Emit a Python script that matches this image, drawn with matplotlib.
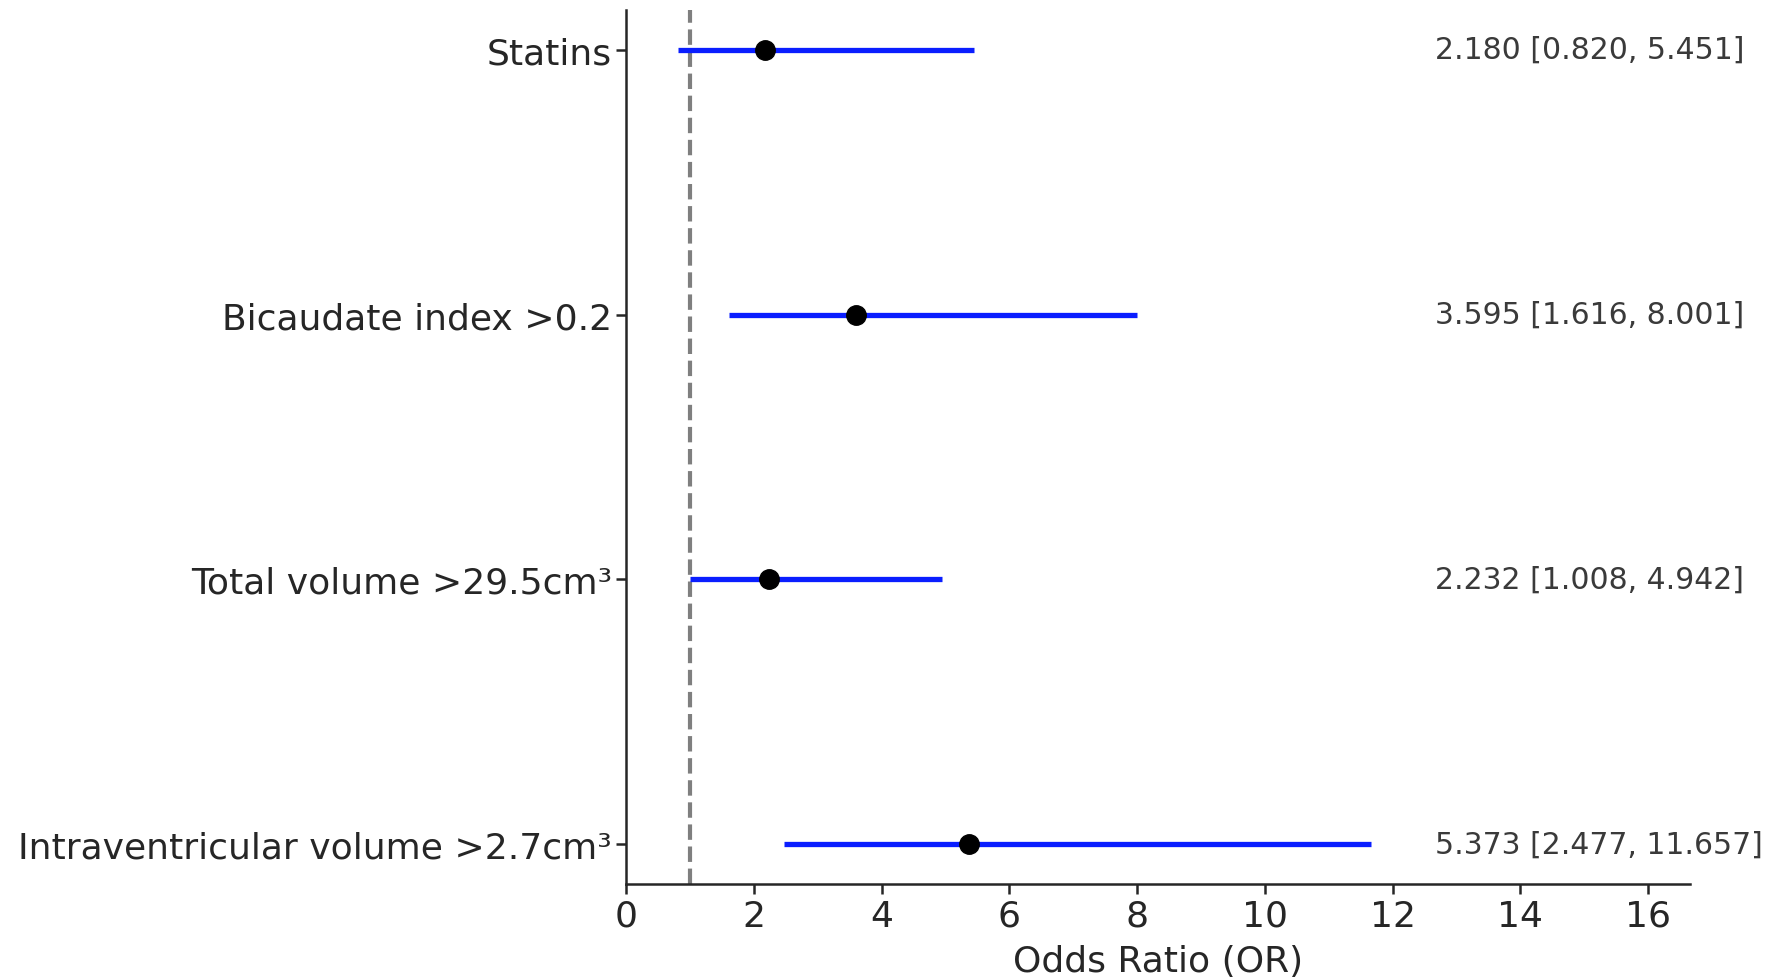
import matplotlib
matplotlib.use('Agg')
import matplotlib.pyplot as plt
import seaborn as sns

labels = ['Statins', 'Bicaudate index >0.2', 'Total volume >29.5cm³', 'Intraventricular volume >2.7cm³']
odds = [2.180, 3.595, 2.232, 5.373]
ci_low = [0.820, 1.616, 1.008, 2.477]
ci_high = [5.451, 8.001, 4.942, 11.657]

sns.set_style('ticks')
plt.rcParams['font.family'] = ['DejaVu Sans']
plt.rcParams['text.color'] = '#262626'

fig = plt.figure(figsize=(17.76, 9.78), dpi=100)
ax = fig.add_axes([0.3525, 0.0951, 0.5991, 0.8937])

ypos = list(range(len(labels)))
for y, o, lo, hi in zip(ypos, odds, ci_low, ci_high):
    ax.plot([lo, hi], [y, y], color='#0a1eff', lw=3.8, solid_capstyle='butt', zorder=2)
    ax.plot(o, y, 'o', color='black', markersize=14, zorder=3)
    ax.text(max(ci_high) + 1, y, f'{o:.3f} [{lo:.3f}, {hi:.3f}]', va='center', ha='left',
            fontsize=21.5, color='#3a3a3a')

ax.axvline(1, color='#7f7f7f', ls='--', lw=3, zorder=1)
ax.set_yticks(ypos)
ax.set_yticklabels(labels, fontsize=26, color='#262626')
ax.tick_params(axis='y', pad=3)
ax.invert_yaxis()
ax.set_xlim(0, max(ci_high) + 5)
ax.set_xticks(range(0, 17, 2))
ax.tick_params(axis='x', labelsize=26, colors='#262626')
ax.tick_params(length=7, width=1.8)
ax.set_xlabel('Odds Ratio (OR)', fontsize=26, color='#262626', labelpad=8)
for s in ['left', 'bottom']:
    ax.spines[s].set_linewidth(1.8)
    ax.spines[s].set_color('#262626')
sns.despine(ax=ax)

fig.savefig('out.png', dpi=100)
